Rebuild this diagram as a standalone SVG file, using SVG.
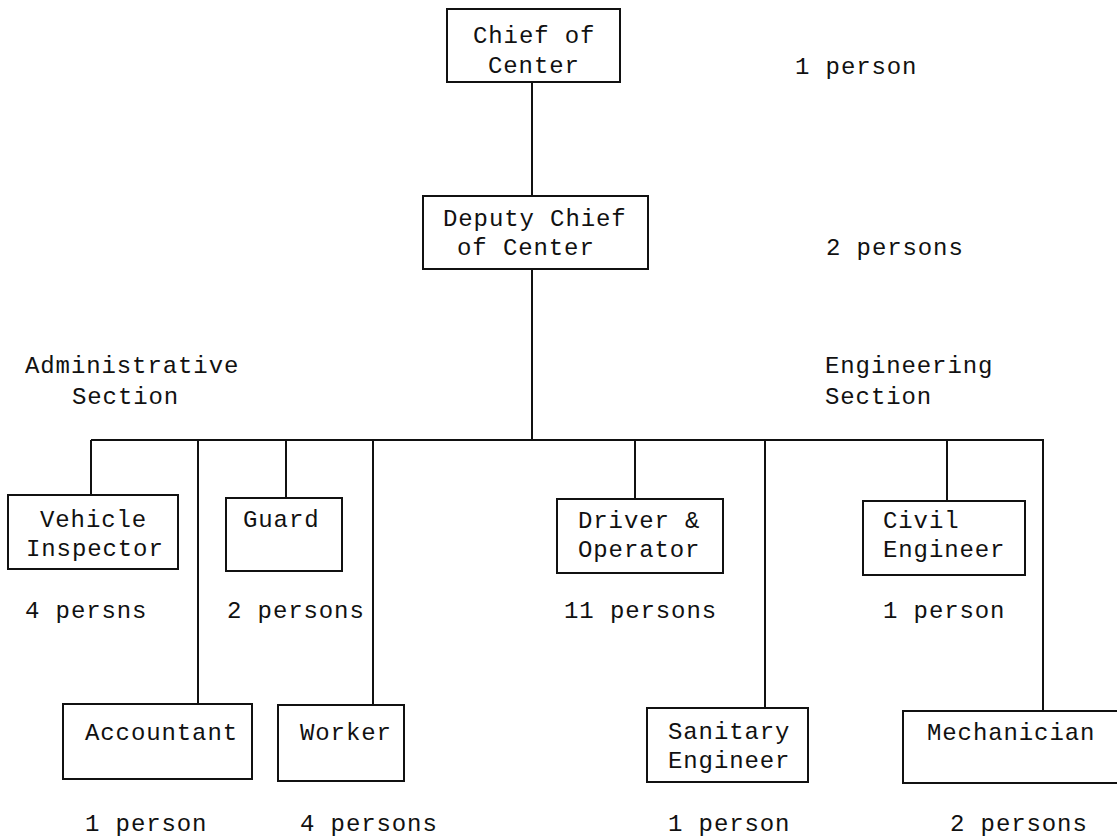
<svg xmlns="http://www.w3.org/2000/svg" width="1117" height="838" viewBox="0 0 1117 838">
<style>
text{font-family:"Liberation Mono","DejaVu Sans Mono",monospace;font-size:24px;letter-spacing:0.9px;fill:#111}
.box{fill:none;stroke:#111;stroke-width:2}
.ln{stroke:#111;stroke-width:2;fill:none}
</style>
<rect width="1117" height="838" fill="#fff"/>
<g id="connectors">
<line class="ln" x1="532" y1="82" x2="532" y2="196"/>
<line class="ln" x1="532" y1="269" x2="532" y2="440"/>
<line class="ln" x1="91" y1="440" x2="1044" y2="440"/>
<line class="ln" x1="91" y1="440" x2="91" y2="495"/>
<line class="ln" x1="198" y1="440" x2="198" y2="704"/>
<line class="ln" x1="286" y1="440" x2="286" y2="498"/>
<line class="ln" x1="373" y1="440" x2="373" y2="705"/>
<line class="ln" x1="635" y1="440" x2="635" y2="499"/>
<line class="ln" x1="765" y1="440" x2="765" y2="708"/>
<line class="ln" x1="947" y1="440" x2="947" y2="501"/>
<line class="ln" x1="1043" y1="440" x2="1043" y2="711"/>
</g>
<g id="chief">
<rect class="box" x="447" y="9" width="173" height="73"/>
<text x="473" y="43">Chief of</text>
<text x="488" y="73">Center</text>
<text x="795" y="74">1 person</text>
</g>
<g id="deputy">
<rect class="box" x="423" y="196" width="225" height="73"/>
<text x="443" y="226">Deputy Chief</text>
<text x="457" y="255">of Center</text>
<text x="826" y="255">2 persons</text>
</g>
<g id="admin-label">
<text x="25" y="373">Administrative</text>
<text x="72" y="404">Section</text>
</g>
<g id="eng-label">
<text x="825" y="373">Engineering</text>
<text x="825" y="404">Section</text>
</g>
<g id="vehicle">
<rect class="box" x="8" y="495" width="170" height="74"/>
<text x="40" y="527">Vehicle</text>
<text x="26" y="556">Inspector</text>
<text x="25" y="618">4 persns</text>
</g>
<g id="guard">
<rect class="box" x="226" y="498" width="116" height="73"/>
<text x="243" y="527">Guard</text>
<text x="227" y="618">2 persons</text>
</g>
<g id="accountant">
<rect class="box" x="63" y="704" width="189" height="75"/>
<text x="85" y="740">Accountant</text>
<text x="85" y="831">1 person</text>
</g>
<g id="worker">
<rect class="box" x="278" y="705" width="126" height="76"/>
<text x="300" y="740">Worker</text>
<text x="300" y="831">4 persons</text>
</g>
<g id="driver">
<rect class="box" x="557" y="499" width="166" height="74"/>
<text x="578" y="528">Driver &amp;</text>
<text x="578" y="557">Operator</text>
<text x="564" y="618">11 persons</text>
</g>
<g id="civil">
<rect class="box" x="863" y="501" width="162" height="74"/>
<text x="883" y="528">Civil</text>
<text x="883" y="557">Engineer</text>
<text x="883" y="618">1 person</text>
</g>
<g id="sanitary">
<rect class="box" x="647" y="708" width="161" height="74"/>
<text x="668" y="739">Sanitary</text>
<text x="668" y="768">Engineer</text>
<text x="668" y="831">1 person</text>
</g>
<g id="mechanician">
<rect class="box" x="903" y="711" width="230" height="72"/>
<text x="927" y="740">Mechanician</text>
<text x="950" y="831">2 persons</text>
</g>
</svg>
